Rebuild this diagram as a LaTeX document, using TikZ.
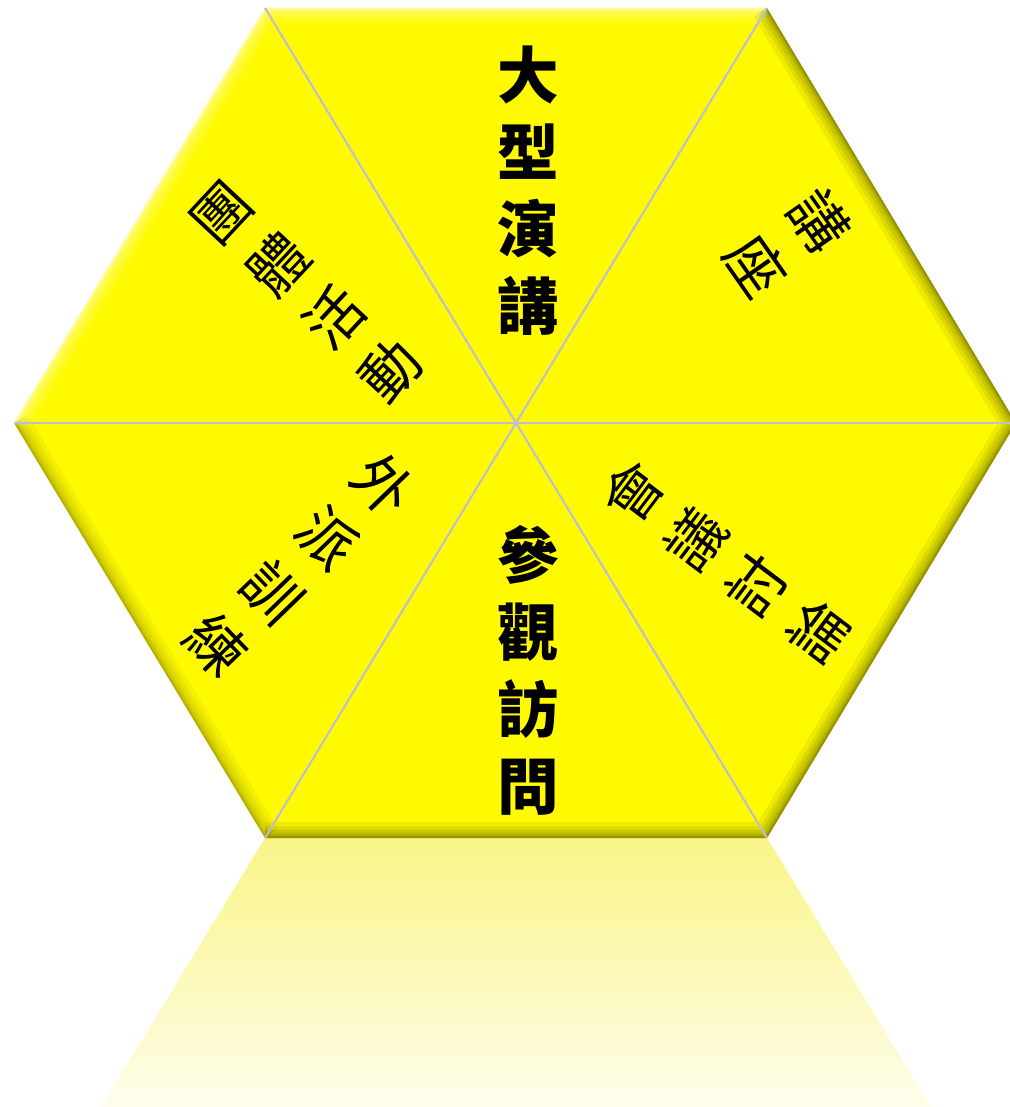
\documentclass[tikz,border=0pt]{standalone}
\usepackage{fontspec}
\newfontfamily\cjk{Noto Sans CJK TC}
\usetikzlibrary{calc}
\definecolor{hexyellow}{RGB}{255,250,0}
\definecolor{divline}{RGB}{190,190,210}
\definecolor{bevdark}{RGB}{95,95,0}
\definecolor{reftop}{RGB}{250,245,135}
\definecolor{refbot}{RGB}{254,253,236}
\tikzset{
  bigtxt/.style={font=\cjk\bfseries\fontsize{17.5}{21.9}\selectfont, align=center, inner sep=0pt, text=black},
  smtxt/.style={font=\cjk\fontsize{16.5}{21.9}\selectfont, align=center, inner sep=0pt, text=black},
  divider/.style={draw=divline, line width=0.6pt},
}
\begin{document}
\begin{tikzpicture}[x=0.01cm, y=-0.01cm]
\useasboundingbox (0,0) rectangle (1010,1107);
% corners
\coordinate (C) at (516,423);
\coordinate (TL) at (265,8);
\coordinate (TR) at (767,8);
\coordinate (R) at (1016,423);
\coordinate (BR) at (767,838);
\coordinate (BL) at (265,838);
\coordinate (L) at (14,423);
\coordinate (RFL) at (101,1107);
\coordinate (RFR) at (931,1107);
% reflection
\shade[top color=reftop, bottom color=refbot] (BL) -- (BR) -- (RFR) -- (RFL) -- cycle;
% hexagon
\fill[hexyellow] (TL) -- (TR) -- (R) -- (BR) -- (BL) -- (L) -- cycle;
\begin{scope}
\clip (TL) -- (TR) -- (R) -- (BR) -- (BL) -- (L) -- cycle;
\foreach \w/\o in {9/0.10, 6.5/0.12, 4.5/0.15, 2.6/0.2, 1.2/0.35} {
  \draw[bevdark, line width=\w pt, opacity=\o, line join=miter] (TR) -- (R) -- (BR) -- (BL);
  \draw[bevdark, line width=\w pt, opacity=0.6*\o, line join=miter] (BL) -- (L);
  \draw[white, line width=\w pt, opacity=0.8*\o, line join=miter] (L) -- (TL) -- (TR);
}
\end{scope}
% dividers
\foreach \p in {TL,TR,R,BR,BL,L} { \draw[divider] (C) -- (\p); }
% texts
\node[bigtxt] (t1) at (528,191) {大\\型\\演\\講};
\node[smtxt, rotate=-55] (t2) at (788,243) {講\\座};
\node[smtxt, rotate=53] (t3) at (726,562) {會\\議\\討\\論};
\node[bigtxt] (t4) at (528,670) {參\\觀\\訪\\問};
\node[smtxt, rotate=-46] (t5) at (300,565) {外\\派\\訓\\練};
\node[smtxt, rotate=47] (t6) at (307,292) {團\\體\\活\\動};
\end{tikzpicture}
\end{document}
